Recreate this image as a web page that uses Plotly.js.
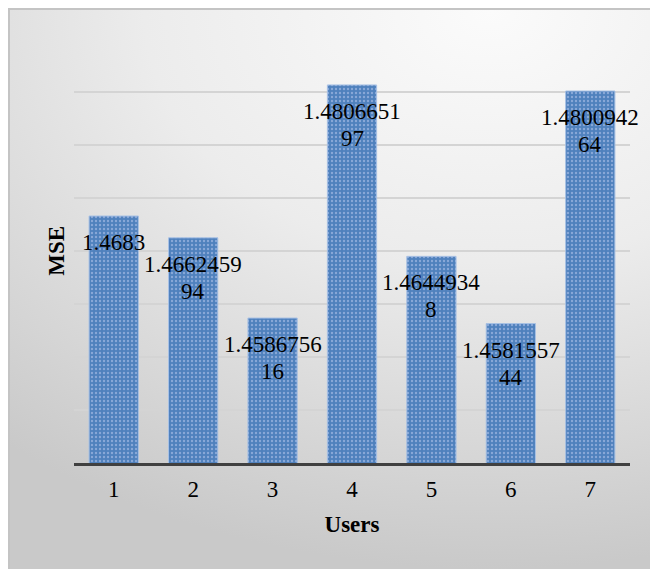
<!DOCTYPE html>
<html>
<head>
<meta charset="utf-8">
<script src="https://cdn.plot.ly/plotly-3.0.1.min.js"></script>
<style>
  html, body { margin:0; padding:0; background:#ffffff; }
  #bg {
    position:absolute; left:8px; top:8px; width:640px; height:559px;
    border-left:2px solid #c4c4c4; border-top:2px solid #c4c4c4;
    background: radial-gradient(ellipse 120% 100% at 75% 0%, #fbfbfb 0%, #ececec 45%, #d6d6d6 80%, #c9c9c9 100%);
  }
  #chart { position:absolute; left:0; top:0; width:650px; height:569px; }
</style>
</head>
<body>
<div id="bg"></div>
<div id="chart"></div>
<script>
const users = ['1', '2', '3', '4', '5', '6', '7'];
const mse = [1.4683, 1.466245994, 1.458675616, 1.480665197, 1.46449348, 1.458155744, 1.480094264];
const labelLines1 = ['1.4683', '1.4662459', '1.4586756', '1.4806651', '1.4644934', '1.4581557', '1.4800942'];
const labelLines2 = ['', '94', '16', '97', '8', '44', '64'];

const serif = 'Times New Roman';

const trace = {
  type: 'bar',
  x: users,
  y: mse,
  marker: {
    color: '#4f81bd',
    line: { color: '#a7c0e4', width: 1 },
    pattern: { shape: '.', bgcolor: '#4f81bd', fgcolor: '#88a8d8', size: 4, solidity: 0.28 }
  },
  hoverinfo: 'none'
};

const annotations = [];
users.forEach((u, i) => {
  annotations.push({
    x: i, y: mse[i], xref: 'x', yref: 'y',
    text: labelLines1[i], showarrow: false,
    yanchor: 'top', yshift: -12,
    font: { family: serif, size: 23, color: '#000000' }
  });
  if (labelLines2[i]) {
    annotations.push({
      x: i, y: mse[i], xref: 'x', yref: 'y',
      text: labelLines2[i], showarrow: false,
      yanchor: 'top', yshift: -39,
      font: { family: serif, size: 23, color: '#000000' }
    });
  }
});
annotations.push({
  xref: 'paper', yref: 'paper', x: -0.033, y: 0.5,
  xanchor: 'center', yanchor: 'middle', textangle: -90,
  text: '<b>MSE</b>', showarrow: false,
  font: { family: serif, size: 23, color: '#000000' }
});

const layout = {
  width: 650, height: 569,
  font: { family: serif, size: 23, color: '#000000' },
  paper_bgcolor: 'rgba(0,0,0,0)',
  plot_bgcolor: 'rgba(0,0,0,0)',
  margin: { l: 74, r: 20, t: 39, b: 106 },
  bargap: 0.38,
  showlegend: false,
  xaxis: {
    type: 'category',
    range: [-0.5, 6.5],
    showgrid: false,
    showline: true, linecolor: '#404040', linewidth: 3,
    ticks: '',
    ticklabelstandoff: 3,
    tickfont: { family: serif, size: 23, color: '#000000' },
    title: { text: '<b>Users</b>', font: { family: serif, size: 23, color: '#000000' }, standoff: 16 },
    zeroline: false
  },
  yaxis: {
    range: [1.445, 1.485],
    dtick: 0.005,
    showticklabels: false,
    showgrid: true, gridcolor: '#d4d4d4', gridwidth: 1.5,
    zeroline: false, showline: false, ticks: ''
  },
  annotations: annotations
};

Plotly.newPlot('chart', [trace], layout, { displayModeBar: false, staticPlot: true });
</script>
</body>
</html>
